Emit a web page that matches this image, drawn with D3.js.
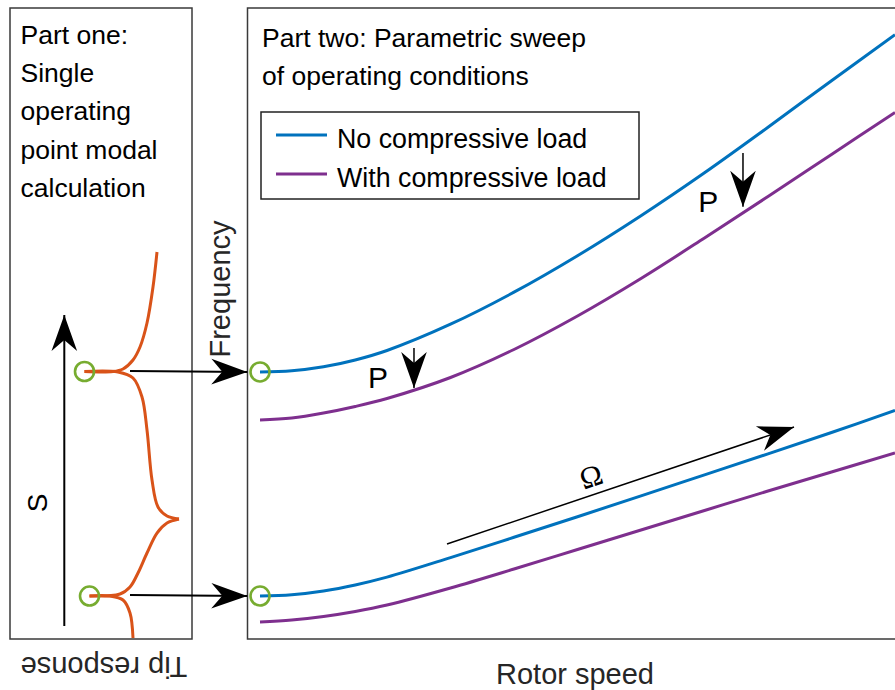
<!DOCTYPE html>
<html>
<head>
<meta charset="utf-8">
<script src="https://cdn.jsdelivr.net/npm/d3@7"></script>
<style>
body { margin: 0; background: #fff; }
text { font-family: "Liberation Sans", Arial, sans-serif; fill: #000; }
</style>
</head>
<body>
<div id="chart"></div>
<script>
// rotor speed samples (0-100), shared by the four frequency curves
var rotorSpeed = [0, 5, 10, 15, 20, 30, 40, 50, 60, 70, 80, 90, 100];
var upperNoLoad = [44.67, 44.87, 45.53, 46.67, 48.25, 52.63, 57.97, 64.05, 70.72, 77.88, 85.47, 93.22, 100.88];
var upperLoad = [36.67, 37, 37.83, 38.92, 40.25, 43.75, 48.42, 54, 60.25, 67, 73.92, 80.92, 87.92];
var lowerNoLoad = [7.33, 7.55, 8.18, 9.18, 10.48, 13.73, 17.12, 20.55, 24.02, 27.52, 31.02, 34.58, 38.25];
var lowerLoad = [3, 3.33, 3.92, 4.75, 5.83, 8.67, 11.83, 15.08, 18.33, 21.58, 24.83, 28, 31.17];

// tip response [response, S], split at the cusps
var tipTop = [[77, 64.67], [73, 58.83], [67, 52.83], [60, 48.83], [53, 46.67], [43, 45.17], [33, 44.75], [4.5, 44.75]];
var tipMid1 = [[4.5, 44.75], [38, 44.67], [53, 43.67], [62, 40.5], [67, 35], [72, 26.67], [78, 22.17], [87, 20.67], [99, 20.17]];
var tipMid2 = [[99, 20.17], [87, 19.5], [77, 17.83], [67, 14.5], [58, 11.17], [50, 8.83], [40, 7.67], [9.5, 7.33]];
var tipBottom = [[9.5, 7.33], [30, 7.33], [43, 6.67], [50, 4.5], [53, 0.33]];

// modes picked in part one
var modeTip = [4.5, 9.5];
var modeS = [44.75, 7.33];
var modeFreq = [44.67, 7.33];

// text
var partOneLines = ["Part one:", "Single", "operating", "point modal", "calculation"];
var partTwoLines = ["Part two: Parametric sweep", "of operating conditions"];
var legendLabels = ["No compressive load", "With compressive load"];
var colors = ["#0072BD", "#7E2F8E"];

var width = 895, height = 690;

var svg = d3.select("#chart")
  .append("svg")
    .attr("width", width)
    .attr("height", height);

// scales: right panel (rotor speed vs frequency), left panel (tip response vs S)
var x = d3.scaleLinear().domain([0, 100]).range([260, 895]);
var y = d3.scaleLinear().domain([0, 100]).range([640, 40]);
var xTip = d3.scaleLinear().domain([0, 100]).range([80, 180]);

// arrow head
svg.append("defs").append("marker")
    .attr("id", "head")
    .attr("viewBox", "-37 -14 38 28")
    .attr("refX", 0).attr("refY", 0)
    .attr("markerWidth", 38).attr("markerHeight", 28)
    .attr("markerUnits", "userSpaceOnUse")
    .attr("orient", "auto")
  .append("path")
    .attr("d", "M0,0L-36,-12.8L-25,0L-36,12.8Z")
    .attr("fill", "#000");

// panel boxes
svg.append("rect")
    .attr("x", 10).attr("y", 8)
    .attr("width", 182).attr("height", 631)
    .attr("fill", "none").attr("stroke", "#3a3a3a").attr("stroke-width", 1.5);
svg.append("rect")
    .attr("x", 247.5).attr("y", 8)
    .attr("width", 700).attr("height", 631)
    .attr("fill", "none").attr("stroke", "#3a3a3a").attr("stroke-width", 1.5);

// part one text
svg.append("g").selectAll("text")
  .data(partOneLines)
  .enter().append("text")
    .attr("x", 20.5)
    .attr("y", function(d, i) { return 44 + i * 38.2; })
    .style("font-size", "26.5px")
    .text(function(d) { return d; });

// part two text
svg.append("g").selectAll("text")
  .data(partTwoLines)
  .enter().append("text")
    .attr("x", 262)
    .attr("y", function(d, i) { return 47 + i * 37.5; })
    .style("font-size", "26.5px")
    .text(function(d) { return d; });

// frequency curves
var line = d3.line()
    .x(function(d) { return x(d[0]); })
    .y(function(d) { return y(d[1]); })
    .curve(d3.curveCatmullRom);

var curves = [
  {values: upperNoLoad, color: colors[0]},
  {values: upperLoad, color: colors[1]},
  {values: lowerNoLoad, color: colors[0]},
  {values: lowerLoad, color: colors[1]}
];

svg.append("g").selectAll("path")
  .data(curves)
  .enter().append("path")
    .attr("d", function(c) { return line(rotorSpeed.map(function(r, i) { return [r, c.values[i]]; })); })
    .attr("fill", "none")
    .attr("stroke", function(c) { return c.color; })
    .attr("stroke-width", 3);

// tip response curve
var tipLine = d3.line()
    .x(function(d) { return xTip(d[0]); })
    .y(function(d) { return y(d[1]); })
    .curve(d3.curveCatmullRom);

svg.append("g").selectAll("path")
  .data([tipTop, tipMid1, tipMid2, tipBottom])
  .enter().append("path")
    .attr("d", tipLine)
    .attr("fill", "none")
    .attr("stroke", "#D95319")
    .attr("stroke-width", 3)
    .attr("stroke-linejoin", "round");

// S axis arrow
svg.append("line")
    .attr("x1", xTip(-15.7)).attr("y1", y(2.33))
    .attr("x2", xTip(-15.7)).attr("y2", y(54.17))
    .attr("stroke", "#000").attr("stroke-width", 2)
    .attr("marker-end", "url(#head)");

// arrows from part one to part two
svg.append("g").selectAll("line")
  .data(modeFreq)
  .enter().append("line")
    .attr("x1", xTip(50)).attr("y1", function(d) { return y(d) - 1; })
    .attr("x2", x(-2)).attr("y2", function(d) { return y(d); })
    .attr("stroke", "#000").attr("stroke-width", 2)
    .attr("marker-end", "url(#head)");

// load arrows with P labels
var loadArrows = [
  {r: 24.25, from: 48.67, to: 42, labelR: 17, labelF: 42},
  {r: 76.06, from: 81.17, to: 72.2, labelR: 69, labelF: 71.33}
];
svg.append("g").selectAll("line")
  .data(loadArrows)
  .enter().append("line")
    .attr("x1", function(d) { return x(d.r); }).attr("y1", function(d) { return y(d.from); })
    .attr("x2", function(d) { return x(d.r); }).attr("y2", function(d) { return y(d.to); })
    .attr("stroke", "#000").attr("stroke-width", 1.5)
    .attr("marker-end", "url(#head)");
svg.append("g").selectAll("text")
  .data(loadArrows)
  .enter().append("text")
    .attr("x", function(d) { return x(d.labelR); })
    .attr("y", function(d) { return y(d.labelF); })
    .style("font-size", "30px")
    .text("P");

// rotor speed arrow
var omega = {r1: 29.45, f1: 16, r2: 84.1, f2: 35.5};
svg.append("line")
    .attr("x1", x(omega.r1)).attr("y1", y(omega.f1))
    .attr("x2", x(omega.r2)).attr("y2", y(omega.f2))
    .attr("stroke", "#000").attr("stroke-width", 1.5)
    .attr("marker-end", "url(#head)");
var angle = Math.atan2(y(omega.f2) - y(omega.f1), x(omega.r2) - x(omega.r1)) * 180 / Math.PI;
svg.append("text")
    .attr("transform", "translate(" + x(52.1) + "," + y(27.3) + ") rotate(" + angle + ")")
    .attr("text-anchor", "middle")
    .attr("dy", "0.35em")
    .style("font-family", "'Liberation Serif', 'DejaVu Serif', serif")
    .style("font-size", "30px")
    .text("\u03A9");

// mode markers
svg.append("g").selectAll("circle")
  .data(modeTip)
  .enter().append("circle")
    .attr("cx", function(d) { return xTip(d); })
    .attr("cy", function(d, i) { return y(modeS[i]); })
    .attr("r", 9.5)
    .attr("fill", "none").attr("stroke", "#77AC30").attr("stroke-width", 2.6);
svg.append("g").selectAll("circle")
  .data(modeFreq)
  .enter().append("circle")
    .attr("cx", x(0))
    .attr("cy", function(d) { return y(d); })
    .attr("r", 9.5)
    .attr("fill", "none").attr("stroke", "#77AC30").attr("stroke-width", 2.6);

// legend
svg.append("rect")
    .attr("x", 261).attr("y", 112)
    .attr("width", 378).attr("height", 87)
    .attr("fill", "#fff").attr("stroke", "#222").attr("stroke-width", 1.5);
var legend = svg.append("g").selectAll("g")
  .data(legendLabels)
  .enter().append("g")
    .attr("transform", function(d, i) { return "translate(276," + (135 + i * 39) + ")"; });
legend.append("line")
    .attr("x1", 0).attr("x2", 51)
    .attr("stroke", function(d, i) { return colors[i]; })
    .attr("stroke-width", 3);
legend.append("text")
    .attr("x", 61).attr("y", 12.5)
    .style("font-size", "26.8px")
    .text(function(d) { return d; });

// axis labels
svg.append("text")
    .attr("transform", "translate(230,289) rotate(-90)")
    .attr("text-anchor", "middle")
    .style("font-size", "29px").style("fill", "#262626")
    .text("Frequency");
svg.append("text")
    .attr("x", 575).attr("y", 684)
    .attr("text-anchor", "middle")
    .style("font-size", "29px").style("fill", "#262626")
    .text("Rotor speed");
svg.append("text")
    .attr("transform", "translate(104,657) rotate(180)")
    .attr("text-anchor", "middle")
    .style("font-size", "29px").style("fill", "#262626")
    .text("Tip response");
svg.append("text")
    .attr("transform", "translate(47,503) rotate(-90)")
    .attr("text-anchor", "middle")
    .style("font-size", "28px")
    .text("S");
</script>
</body>
</html>
